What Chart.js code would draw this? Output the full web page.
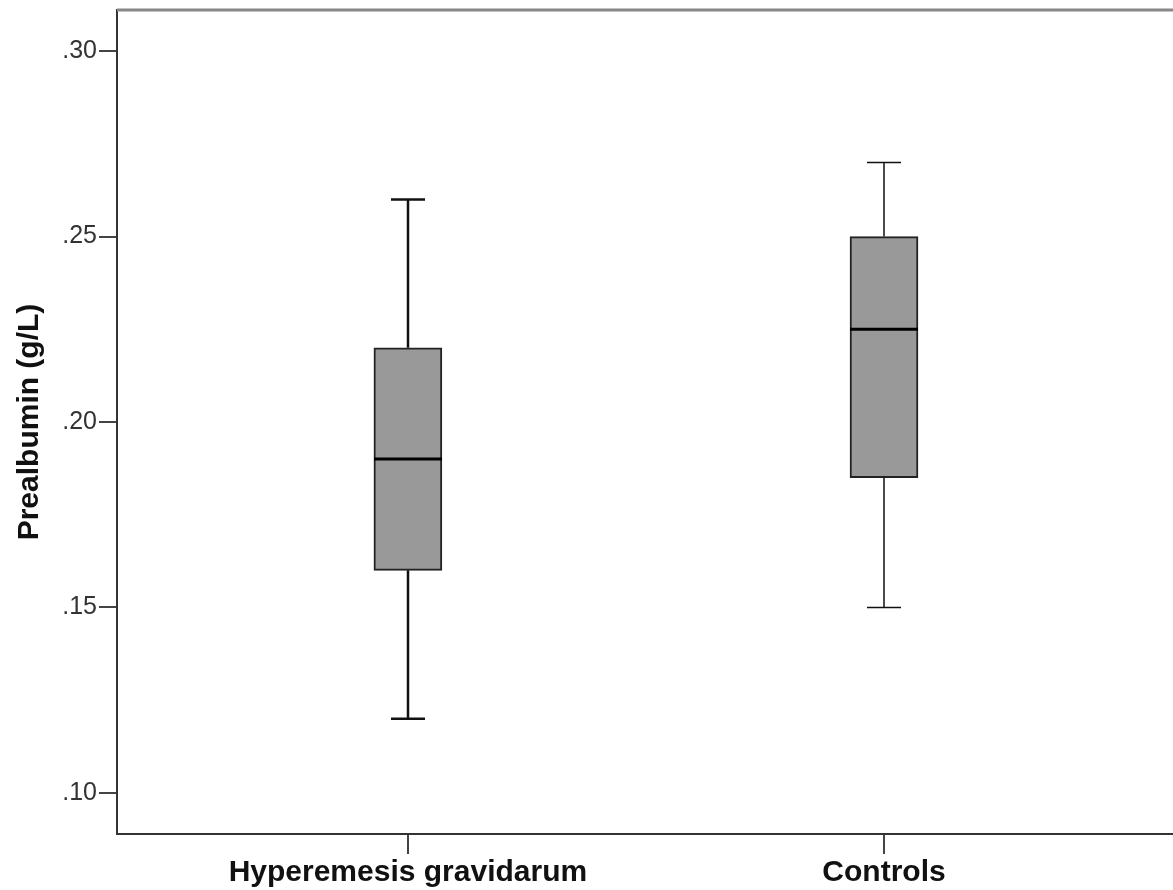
<!DOCTYPE html>
<html>
<head>
<meta charset="utf-8">
<script src="https://cdn.jsdelivr.net/npm/chart.js@4.4.1/dist/chart.umd.min.js"></script>
<style>
  html, body { margin: 0; padding: 0; background: #fff; }
  canvas { display: block; }
</style>
</head>
<body>
<canvas id="plot" width="1173" height="890"></canvas>
<script>
'use strict';

// Groups and their positions along the x axis
const groups = ["Hyperemesis gravidarum", "Controls"];
const positions = [1, 2];

// Box plot statistics (g/L)
const whiskerLow = [0.12, 0.15];
const quart1 = [0.16, 0.185];
const medians = [0.19, 0.225];
const quart3 = [0.22, 0.25];
const whiskerHigh = [0.26, 0.27];

// Y axis tick values
const yTicks = [0.10, 0.15, 0.20, 0.25, 0.30];

const BOX_WIDTH = 68;
const FONT = 'Liberation Sans, Arial, sans-serif';

// Whiskers, caps, medians and the top frame line
const boxExtras = {
    id: 'boxExtras',
    afterDatasetsDraw(chart) {
        const ctx = chart.ctx;
        const xs = chart.scales.x;
        const ys = chart.scales.y;
        ctx.save();
        for (let i = 0; i < groups.length; i++) {
            const x = Math.round(xs.getPixelForValue(positions[i]));
            const half = BOX_WIDTH / 2;
            const cap = BOX_WIDTH / 4;
            ctx.strokeStyle = '#111';
            ctx.lineWidth = i === 0 ? 2.5 : 1.5;
            ctx.beginPath();
            ctx.moveTo(x, ys.getPixelForValue(quart3[i]));
            ctx.lineTo(x, ys.getPixelForValue(whiskerHigh[i]));
            ctx.moveTo(x - cap, ys.getPixelForValue(whiskerHigh[i]));
            ctx.lineTo(x + cap, ys.getPixelForValue(whiskerHigh[i]));
            ctx.moveTo(x, ys.getPixelForValue(quart1[i]));
            ctx.lineTo(x, ys.getPixelForValue(whiskerLow[i]));
            ctx.moveTo(x - cap, ys.getPixelForValue(whiskerLow[i]));
            ctx.lineTo(x + cap, ys.getPixelForValue(whiskerLow[i]));
            ctx.stroke();
            ctx.lineWidth = 3;
            ctx.strokeStyle = '#000';
            ctx.beginPath();
            ctx.moveTo(x - half, ys.getPixelForValue(medians[i]));
            ctx.lineTo(x + half, ys.getPixelForValue(medians[i]));
            ctx.stroke();
        }
        const area = chart.chartArea;
        ctx.strokeStyle = '#888';
        ctx.lineWidth = 3;
        ctx.beginPath();
        ctx.moveTo(area.left, area.top);
        ctx.lineTo(area.right, area.top);
        ctx.stroke();
        ctx.restore();
    }
};

const boxData = positions.map((p, i) => ({ x: p, y: [quart1[i], quart3[i]] }));

new Chart(document.getElementById('plot'), {
    type: 'bar',
    data: {
        datasets: [{
            data: boxData,
            backgroundColor: '#999999',
            borderColor: '#222',
            borderWidth: 2,
            borderSkipped: false,
            barThickness: BOX_WIDTH
        }]
    },
    options: {
        responsive: false,
        animation: false,
        layout: { padding: { top: 10, right: 0, left: 0, bottom: 0 } },
        plugins: {
            legend: { display: false },
            tooltip: { enabled: false }
        },
        scales: {
            x: {
                type: 'linear',
                offset: false,
                min: 0.389,
                max: 2.607,
                afterBuildTicks: (scale) => {
                    scale.ticks = positions.map(v => ({ value: v }));
                },
                afterFit: (scale) => {
                    scale.height = 56;
                    scale.paddingLeft = 0;
                    scale.paddingRight = 0;
                },
                grid: {
                    display: true,
                    offset: false,
                    drawOnChartArea: false,
                    drawTicks: true,
                    tickLength: 20,
                    color: '#444',
                    lineWidth: 2
                },
                border: { display: true, color: '#333', width: 2 },
                ticks: {
                    padding: 1,
                    maxRotation: 0,
                    autoSkip: false,
                    color: '#111',
                    font: { family: FONT, size: 30, weight: 'bold' },
                    callback: (v) => {
                        const idx = positions.indexOf(v);
                        return idx >= 0 ? groups[idx] : '';
                    }
                }
            },
            y: {
                min: 0.0889,
                max: 0.3111,
                afterBuildTicks: (scale) => {
                    scale.ticks = yTicks.map(v => ({ value: v }));
                },
                afterFit: (scale) => {
                    scale.width = 117;
                    scale.paddingTop = 0;
                    scale.paddingBottom = 0;
                },
                grid: {
                    display: true,
                    drawOnChartArea: false,
                    drawTicks: true,
                    tickLength: 18,
                    color: '#444',
                    lineWidth: 2
                },
                border: { display: true, color: '#333', width: 2 },
                ticks: {
                    padding: 2,
                    color: '#333',
                    font: { family: FONT, size: 25 },
                    callback: (v) => v.toFixed(2).replace(/^0/, '')
                },
                title: {
                    display: true,
                    text: 'Prealbumin (g/L)',
                    color: '#111',
                    padding: { top: 12, bottom: 0 },
                    font: { family: FONT, size: 30, weight: 'bold' }
                }
            }
        }
    },
    plugins: [boxExtras]
});
</script>
</body>
</html>
